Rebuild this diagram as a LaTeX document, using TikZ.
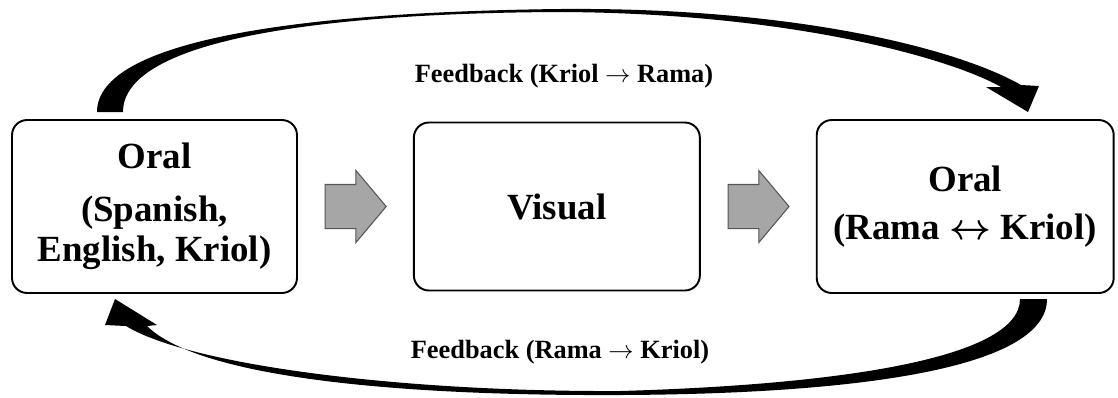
\documentclass[tikz,border=0pt]{standalone}
\usepackage{amsmath}
\usepackage{fontspec}
\setmainfont{Liberation Serif}
\usetikzlibrary{shapes,arrows,positioning,calc}
\definecolor{arrowgray}{RGB}{166,166,166}
\definecolor{arrowedge}{RGB}{85,85,85}

\begin{document}
\begin{tikzpicture}[x=0.02cm, y=-0.02cm,
  stage/.style={rectangle, rounded corners=0.3cm, draw, line width=1.1pt, align=center, inner sep=0pt, font=\bfseries\fontsize{21}{23}\selectfont},
  flow/.style={single arrow, draw=arrowedge, fill=arrowgray, line width=0.6pt, inner xsep=0pt, inner ysep=0.43cm, minimum height=1.22cm, single arrow head extend=0.28cm, single arrow tip angle=100, xshift=-0.18cm},
  fb/.style={font=\bfseries\fontsize{15}{17}\selectfont}]
\useasboundingbox (0,0) rectangle (1118,397);

\node[stage, minimum width=5.7cm, minimum height=3.46cm] (oral1) at (154.5,206.5) {Oral\\[7pt](Spanish,\\English, Kriol)};
\node[stage, minimum width=5.72cm, minimum height=3.36cm, right=2.3cm of oral1] (visual) {Visual};
\node[stage, minimum width=5.94cm, minimum height=3.46cm, right=2.3cm of visual] (oral2) {Oral\\[4pt](Rama $\boldsymbol{\leftrightarrow}$ Kriol)};

\node[flow] (a1) at ($(oral1.east)!0.5!(visual.west)$) {};
\node[flow] (a2) at ($(visual.east)!0.5!(oral2.west)$) {};

\fill (97,112) .. controls (97,40) and (300,12) .. (560,9)
  .. controls (800,7) and (960,50) .. (1021,85)
  -- (1039,86) -- (1028,112) -- (986,87) -- (1001,87)
  .. controls (950,58) and (790,13) .. (560,12)
  .. controls (320,13) and (123,40) .. (123,112) -- cycle;
\fill (1020,299) .. controls (1020,360) and (830,385) .. (620,391)
  .. controls (400,392) and (190,365) .. (126,326)
  -- (105,325) -- (115,299) -- (157,325) -- (147,326)
  .. controls (200,378) and (400,396) .. (620,395)
  .. controls (850,394) and (1047,370) .. (1047,299) -- cycle;

\node[fb] (fbtop) at (564,76) {Feedback (Kriol $\rightarrow$ Rama)};
\node[fb] (fbbot) at (560,352) {Feedback (Rama $\rightarrow$ Kriol)};
\end{tikzpicture}
\end{document}
